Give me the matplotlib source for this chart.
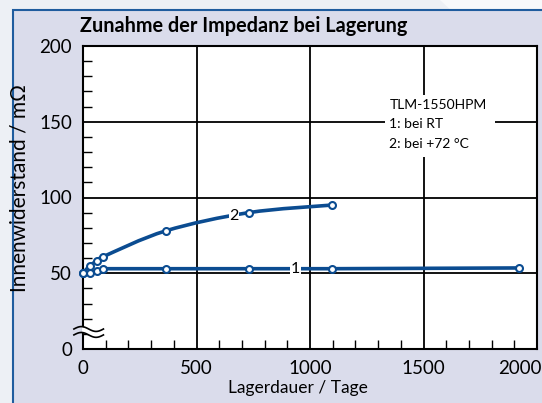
import numpy as np
import matplotlib
matplotlib.use("Agg")
import matplotlib.pyplot as plt
from matplotlib.patches import Rectangle, Polygon, PathPatch
from matplotlib.path import Path
from matplotlib.transforms import ScaledTranslation

plt.rcParams["font.family"] = ["Lato", "DejaVu Sans"]

# storage time in days and internal resistance in mOhm
days_rt = [0, 30, 60, 90, 365, 730, 1095, 1920]
res_rt = [50, 50, 51.5, 53, 53, 53, 53, 53.5]
days_72 = [0, 30, 60, 90, 365, 730, 1095]
res_72 = [50, 55, 58, 61, 78, 90, 95]

x_ticks = [0, 500, 1000, 1500, 2000]
y_ticks = [0, 50, 100, 150, 200]

BLUE = "#0B4C91"
PANEL = "#DADCEB"
OUTER = "#EDF0F5"


def smooth_path(xs, ys):
    """Catmull-Rom curve through the points, as cubic Bezier segments."""
    p = np.column_stack([xs, ys]).astype(float)
    pts = np.vstack([p[0], p, p[-1]])
    verts, codes = [p[0]], [Path.MOVETO]
    for i in range(1, len(pts) - 2):
        p0, p1, p2, p3 = pts[i - 1], pts[i], pts[i + 1], pts[i + 2]
        verts += [p1 + (p2 - p0) / 6, p2 - (p3 - p1) / 6, p2]
        codes += [Path.CURVE4] * 3
    return Path(verts, codes)


W, H = 542, 403
fig = plt.figure(figsize=(W / 100, H / 100), dpi=100)
fig.patch.set_facecolor(OUTER)

# light diagonal highlight top right
fig.patches.append(Polygon([(440 / W, 1), (1, 1), (1, 0.93), (470 / W, 0.93)],
                           closed=True, transform=fig.transFigure,
                           facecolor="#F8F9FB", edgecolor="none", zorder=-2))
# framed panel
fig.patches.append(Rectangle((13 / W, -0.1), 1.2, 1 - 10 / H + 0.1,
                             transform=fig.transFigure, facecolor=PANEL,
                             edgecolor="#1F5C9E", linewidth=1.5, zorder=-1))

ax = fig.add_axes([83 / W, 1 - 349 / H, 454 / W, 303 / H])
ax.set_facecolor("white")
ax.set_xlim(0, 2000)
ax.set_ylim(0, 200)
ax.set_xticks(x_ticks)
ax.set_yticks(y_ticks)
ax.set_xticks(np.arange(0, 2001, 100), minor=True)
ax.set_yticks(np.arange(0, 201, 10), minor=True)
ax.tick_params(which="major", length=0, labelsize=13.5, pad=8, colors="black")
ax.tick_params(which="minor", direction="in", length=6.5, width=1.0)
ax.grid(True, which="major", color="black", linewidth=1.3)
for s in ax.spines.values():
    s.set_linewidth(1.5)
    s.set_color("black")

# last x label sits left of its tick so it stays inside the panel
last = ax.get_xticklabels()[-1]
last.set_horizontalalignment("right")
last.set_transform(last.get_transform() + ScaledTranslation(5 / 100, 0, fig.dpi_scale_trans))

ax.plot(days_rt, res_rt, color=BLUE, lw=2.6, marker="o", ms=5,
        mfc="white", mec=BLUE, mew=1.5, zorder=4, clip_on=False)
ax.add_patch(PathPatch(smooth_path(days_72, res_72), facecolor="none",
                       edgecolor=BLUE, lw=2.6, zorder=4, capstyle="round"))
ax.plot(days_72, res_72, ls="none", marker="o", ms=5,
        mfc="white", mec=BLUE, mew=1.5, zorder=4.5, clip_on=False)

lbl = dict(fontsize=11.5, ha="center", va="center", zorder=5,
           bbox=dict(facecolor="white", edgecolor="none", pad=0.5))
ax.text(935, 52.5, "1", **lbl)
ax.text(665, 87.5, "2", **lbl)

# type label box
ax.add_patch(Rectangle((1330, 126.7), 485, 41, facecolor="white",
                       edgecolor="none", zorder=3))
for yv, s in zip([161, 148.5, 135.5], ["TLM-1550HPM", "1: bei RT", "2: bei +72 °C"]):
    ax.text(1350, yv, s, fontsize=10, ha="left", va="center", zorder=5)

# axis break marks on the y axis
t = np.linspace(0, 1, 60)
wave = 1.6 * np.sin(t * 2 * np.pi)
xs = -0.02 + t * 0.065
inside = xs > -0.004
ax.fill_between(xs[inside], 9.3 + wave[inside], 13.2 + wave[inside],
                transform=ax.get_yaxis_transform(), color="white",
                zorder=6, clip_on=False, lw=0)
ax.plot(xs, 9.3 + wave, color="black", lw=1.2, zorder=7, clip_on=False,
        transform=ax.get_yaxis_transform())
ax.plot(xs, 13.2 + wave, color="black", lw=1.2, zorder=7, clip_on=False,
        transform=ax.get_yaxis_transform())

fig.text(80 / W, 1 - 26 / H, "Zunahme der Impedanz bei Lagerung",
         fontsize=14.3, fontweight="bold", ha="left", va="center")
fig.text(20 / W, 1 - 188 / H, "Innenwiderstand / mΩ", fontsize=15,
         rotation=90, ha="center", va="center")
fig.text(298 / W, 1 - 388 / H, "Lagerdauer / Tage", fontsize=12.5,
         ha="center", va="center")

fig.savefig("out.png", dpi=100, facecolor=fig.get_facecolor())
